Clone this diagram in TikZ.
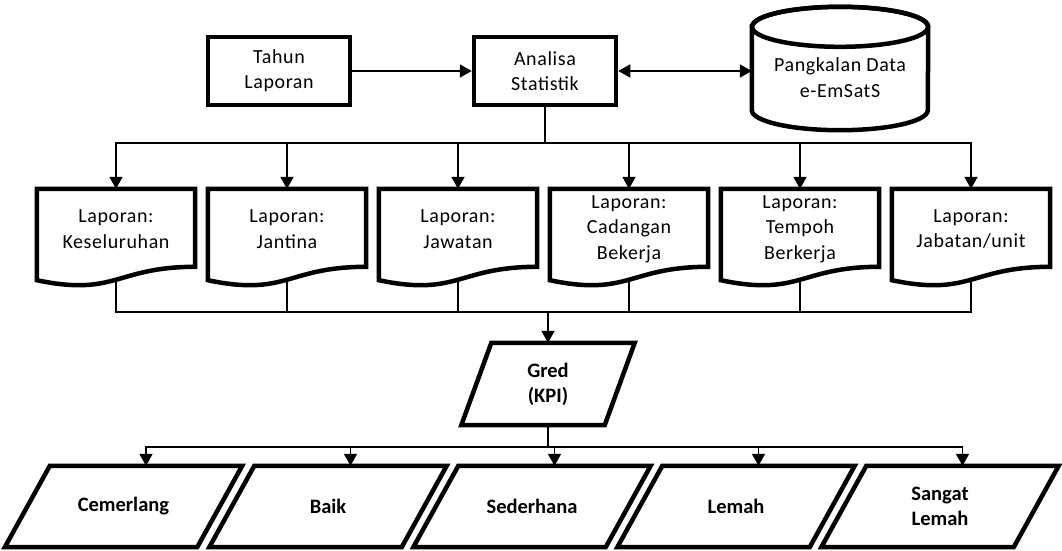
\documentclass[tikz,border=0pt]{standalone}
\usepackage{fontspec}
\setmainfont{Carlito}
\newfontfamily\spacedfont[LetterSpace=3]{Carlito}
\usetikzlibrary{shapes.geometric,arrows.meta,calc}
\begin{document}
\begin{tikzpicture}[x=1pt,y=1pt,
  box/.style={draw, line width=4.5pt, minimum width=142pt, minimum height=68pt, align=center, inner sep=0pt, font=\spacedfont\fontsize{20}{25}\selectfont},
  shapenode/.style={minimum width=158pt, minimum height=91pt, inner sep=0pt},
  txt/.style={align=center, inner sep=0pt, font=\spacedfont\fontsize{20}{25.5}\selectfont},
  bord/.style={line width=4.5pt, line join=miter},
  conn/.style={line width=1.8pt},
  arr/.style={conn, -{Triangle[length=12pt,width=13pt]}},
  grade/.style={inner sep=0pt, align=center, minimum width=237pt, minimum height=81pt, font=\bfseries\fontsize{20.5}{25}\selectfont},
  gredbox/.style={inner sep=0pt, align=center, minimum width=173pt, minimum height=82pt, font=\bfseries\fontsize{20.5}{25}\selectfont}
]
\useasboundingbox (0,0) rectangle (1062,-550);

% top row
\node[box] (tahun) at (279,-71) {Tahun\\Laporan};
\node[box] (ana) at (545,-71) {Analisa\\Statistik};
\node[minimum width=176pt, minimum height=123pt, inner sep=0pt] (db) at (840,-68.5) {};
\draw[bord] ($(db.north west)+(0,-20)$) -- ($(db.south west)+(0,20)$)
  arc[start angle=180,end angle=360,x radius=88,y radius=20]
  -- ($(db.north east)+(0,-20)$)
  arc[start angle=0,end angle=180,x radius=88,y radius=20] -- cycle;
\draw[bord] ($(db.north)+(0,-20)$) ellipse[x radius=88,y radius=20];
\node[txt] (dbt) at ($(db)+(0,-9)$) {Pangkalan Data\\e-EmSatS};

\draw[arr] (tahun.east) -- (ana.west);
\draw[conn, {Triangle[length=12pt,width=13pt]}-{Triangle[length=12pt,width=13pt]}] (ana.east) -- (ana.east -| db.west);

% document row
\foreach \n/\x in {d1/116,d2/287,d3/458,d4/629,d5/800,d6/971}{
  \node[shapenode] (\n) at (\x,-234.5) {};
  \draw[bord] (\n.north west) -- (\n.north east) -- ($(\n.north east)+(0,-78)$)
    .. controls ($(\n.north)+(0,-78)$) and ($(\n.north)+(0,-108)$) .. (\n.south west) -- cycle;
}
\node[txt] (t1) at (116,-229) {Laporan:\\Keseluruhan};
\node[txt] (t2) at (287,-229) {Laporan:\\Jantina};
\node[txt] (t3) at (458,-229) {Laporan:\\Jawatan};
\node[txt] (t4) at (629,-229) {Laporan:\\Cadangan\\Bekerja};
\node[txt] (t5) at (800,-229) {Laporan:\\Tempoh\\Berkerja};
\node[txt] (t6) at (971,-229) {Laporan:\\Jabatan/unit};

\coordinate (b1) at (545,-143);
\draw[conn] (ana.south) -- (b1);
\foreach \n in {d1,d2,d3,d4,d5,d6}{
  \draw[arr] (b1) -| (\n.north);
}

% grade
\node[gredbox] (gred) at (548,-384) {Gred\\(KPI)};
\draw[bord] ($(gred.north west)+(30,0)$) -- (gred.north east) -- ($(gred.south east)+(-30,0)$) -- (gred.south west) -- cycle;
\coordinate (b2) at (548,-312);
\foreach \n in {d1,d2,d3,d4,d5,d6}{
  \draw[conn] (\n.south) |- (b2);
}
\draw[arr] (b2) -- (gred.north);

\node[grade] (g1) at (123.5,-506.5) {Cemerlang};
\node[grade] (g2) at (328,-506.5) {Baik};
\node[grade] (g3) at (532,-506.5) {Sederhana};
\node[grade] (g4) at (736,-506.5) {Lemah};
\node[grade] (g5) at (940,-506.5) {Sangat\\Lemah};
\foreach \n in {g1,g2,g3,g4,g5}{
  \draw[bord] ($(\n.north west)+(45,0)$) -- (\n.north east) -- ($(\n.south east)+(-45,0)$) -- (\n.south west) -- cycle;
}

\coordinate (b3) at (548,-447);
\draw[conn] (gred.south) -- (b3);
\foreach \n in {g1,g2,g3,g4,g5}{
  \draw[arr] (b3) -| ($(\n.north)+(22.5,0)$);
}
\end{tikzpicture}
\end{document}
